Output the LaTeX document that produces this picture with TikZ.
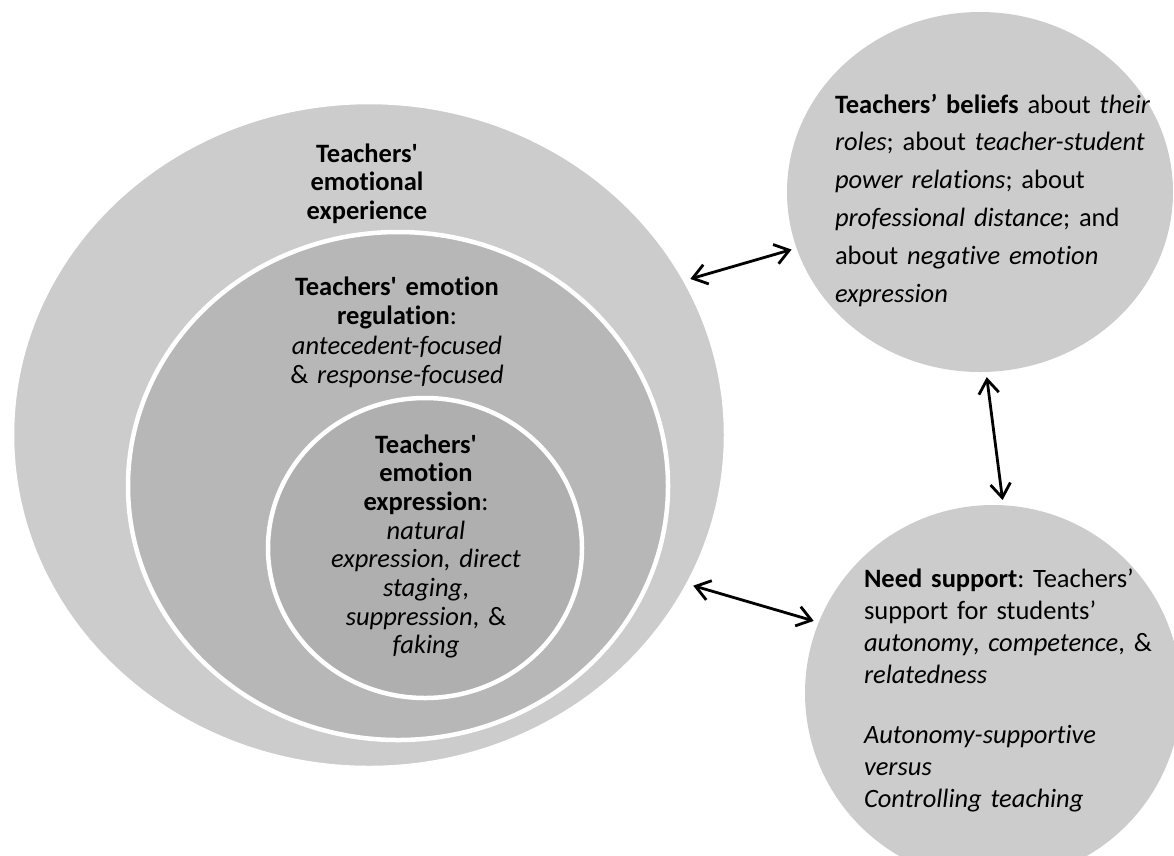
\documentclass[tikz,border=0pt]{standalone}
\usepackage{fontspec}
\setmainfont{Carlito}[Ligatures={TeX,NoCommon}]
\usetikzlibrary{arrows.meta,shapes.geometric}
\definecolor{outerg}{gray}{0.80}
\definecolor{midg}{gray}{0.718}
\definecolor{innerg}{gray}{0.686}
\frenchspacing
\begin{document}
\begin{tikzpicture}[x=1pt,y=-1pt,
  bubble/.style={ellipse,inner sep=0pt,draw=white,line width=4.5pt},
  dbl/.style={{Straight Barb[length=14pt,width=20pt]}-{Straight Barb[length=14pt,width=20pt]},line width=2.8pt,shorten <=3pt,shorten >=3pt},
  txt/.style={inner sep=0pt,outer sep=0pt}
]
\useasboundingbox (0,0) rectangle (1174,855);
\clip (0,0) rectangle (1174,855);

\node[bubble,fill=outerg,minimum width=714pt,minimum height=666pt] (outer) at (369,435) {};
\node[bubble,fill=midg,minimum width=540pt,minimum height=508pt] (mid) at (398,486) {};
\node[bubble,fill=innerg,minimum width=314pt,minimum height=300pt] (inner) at (425,548) {};
\node[bubble,fill=outerg,draw=none,minimum width=386pt,minimum height=360pt] (tr) at (980,192) {};
\node[bubble,fill=outerg,draw=none,minimum width=376pt,minimum height=376pt] (br) at (993,693) {};

\node[txt,text width=220pt,align=center,anchor=base,font=\fontsize{26.5}{28.5}\selectfont\frenchspacing] (t1) at (367,162)
  {\textbf{Teachers\textquotesingle}\\\textbf{emotional}\\\textbf{experience}};
\node[txt,text width=300pt,align=center,anchor=base,font=\fontsize{26.5}{29.5}\selectfont\frenchspacing] (t2) at (397,295)
  {\textbf{Teachers\textquotesingle{} emotion}\\\textbf{regulation}:\\\textit{antecedent-focused}\\\& \textit{response-focused}};
\node[txt,text width=240pt,align=center,anchor=base,font=\fontsize{26.5}{28.7}\selectfont\frenchspacing] (t3) at (426,453)
  {\textbf{Teachers\textquotesingle}\\\textbf{emotion}\\\textbf{expression}:\\\textit{natural}\\\textit{expression, direct}\\\textit{staging},\\\textit{suppression}, \&\\\textit{faking}};
\node[txt,text width=335pt,align=left,anchor=base west,font=\fontsize{26.5}{37.8}\selectfont\frenchspacing] (t4) at (835,113)
  {\textbf{Teachers’ beliefs} about \textit{their}\\\textit{roles}; about \textit{teacher-student}\\\textit{power relations}; about\\\textit{professional distance}; and\\about \textit{negative emotion}\\\textit{expression}};
\node[txt,text width=310pt,align=left,anchor=base west,font=\fontsize{26.5}{32}\selectfont\frenchspacing] (t5) at (864,587)
  {\textbf{Need support}: Teachers’\\support for students’\\\textit{autonomy}, \textit{competence}, \&\\\textit{relatedness}\\[28pt]\textit{Autonomy-supportive}\\\textit{versus}\\\textit{Controlling teaching}};

\draw[dbl] (outer.26.4) -- (tr.197.2);
\draw[dbl] (tr.272.1) -- (br.87.6);
\draw[dbl] (outer.335.8) -- (br.158.5);
\end{tikzpicture}
\end{document}
